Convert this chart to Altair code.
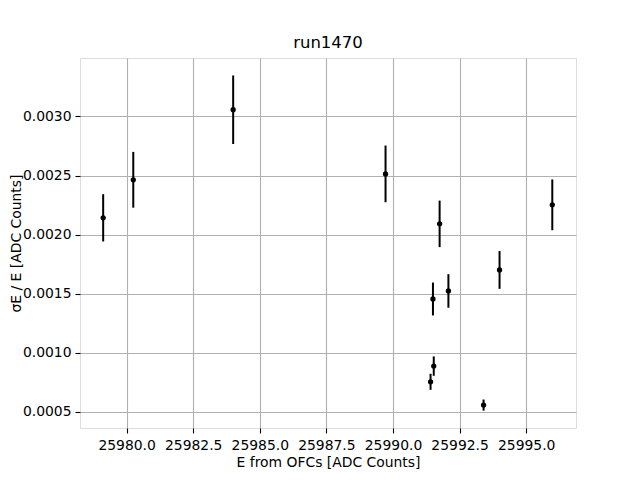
import altair as alt
import pandas as pd

energy = [25979.12, 25980.25, 25984.00, 25989.72, 25991.75, 25991.50,
          25992.08, 25991.53, 25991.41, 25993.40, 25994.00, 25995.98]
resolution = [0.002142, 0.002464, 0.003057, 0.002514, 0.002091, 0.001455,
              0.001523, 0.000887, 0.000754, 0.000557, 0.001701, 0.002252]
error = [0.000200, 0.000236, 0.000290, 0.000240, 0.000197, 0.000139,
         0.000142, 0.000082, 0.000068, 0.000047, 0.000160, 0.000215]

x_ticks = [25980.0, 25982.5, 25985.0, 25987.5, 25990.0, 25992.5, 25995.0]
y_ticks = [0.0005, 0.0010, 0.0015, 0.0020, 0.0025, 0.0030]

df = pd.DataFrame({"E": energy, "res": resolution, "err": error})
df["lo"] = df["res"] - df["err"]
df["hi"] = df["res"] + df["err"]

FONT = "DejaVu Sans"

xscale = alt.Scale(domain=[25978.25, 25996.87], nice=False, zero=False)
yscale = alt.Scale(domain=[0.000363, 0.003495], nice=False, zero=False)

xaxis = alt.Axis(values=x_ticks, format=".1f", title="E from OFCs [ADC Counts]",
                 grid=True, gridColor="#b0b0b0", gridWidth=1.1,
                 domain=False, tickColor="black", tickSize=5, tickWidth=1.1,
                 labelFont=FONT, labelFontSize=13.9, labelColor="black", labelPadding=5,
                 titleFont=FONT, titleFontSize=13.9, titleFontWeight="normal",
                 titleColor="black", titlePadding=4, labelFlush=False)
yaxis = alt.Axis(values=y_ticks, format=".4f", title="σE / E [ADC Counts]",
                 grid=True, gridColor="#b0b0b0", gridWidth=1.1,
                 domain=False, tickColor="black", tickSize=5, tickWidth=1.1,
                 labelFont=FONT, labelFontSize=13.9, labelColor="black", labelPadding=4,
                 titleFont=FONT, titleFontSize=13.9, titleFontWeight="normal",
                 titleColor="black", titleX=-57, titleY=185, titleAngle=270,
                 titleAlign="center", titleBaseline="bottom", labelFlush=False)

base = alt.Chart(df)

bars = base.mark_rule(color="black", strokeWidth=2).encode(
    x=alt.X("E:Q", scale=xscale, axis=xaxis),
    y=alt.Y("lo:Q", scale=yscale, axis=yaxis),
    y2="hi:Q",
)

points = base.mark_circle(color="black", opacity=1, size=28).encode(
    x=alt.X("E:Q", scale=xscale),
    y=alt.Y("res:Q", scale=yscale),
)

chart = (bars + points).properties(
    width=496,
    height=370,
    title=alt.TitleParams("run1470", font=FONT, fontSize=16.5, fontWeight="normal",
                          color="black", offset=7, anchor="middle"),
    autosize=alt.AutoSizeParams(type="none"),
    padding={"left": 72, "top": 50, "right": 56, "bottom": 45},
).configure_view(stroke="black", strokeWidth=1.1).configure(background="white")

chart.save("out.html", embed_options={"renderer": "svg", "actions": False})
